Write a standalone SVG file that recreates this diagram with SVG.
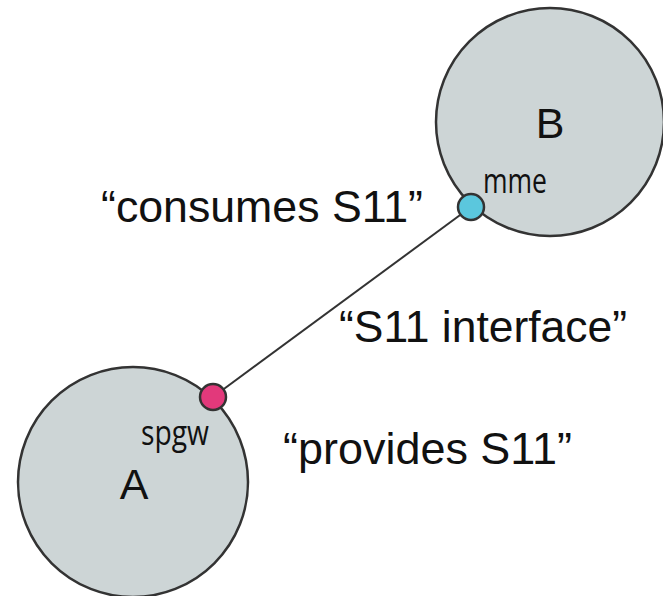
<svg xmlns="http://www.w3.org/2000/svg" width="663" height="596" viewBox="0 0 663 596">
  <style>
    .node { fill: #cdd5d6; stroke: #333; stroke-width: 2.5; }
    .name { font-family: "Liberation Sans", Arial, sans-serif; font-size: 43px; fill: #111; text-anchor: middle; }
    .port-label { font-family: "Open Sans", "DejaVu Sans", sans-serif; font-size: 34px; fill: #111; }
    .note { font-family: "Liberation Sans", Arial, sans-serif; font-size: 44px; fill: #111; }
    .link { stroke: #333; stroke-width: 2; fill: none; }
    .port { stroke: #333; stroke-width: 2.5; }
  </style>
  <rect width="663" height="596" fill="#fff"/>

  <g id="node-b">
    <circle class="node" cx="550" cy="122" r="114"/>
    <text class="name" x="550" y="138">B</text>
    <text class="port-label" x="483" y="193" textLength="64" lengthAdjust="spacingAndGlyphs">mme</text>
  </g>

  <g id="node-a">
    <circle class="node" cx="133" cy="482" r="115"/>
    <text class="name" x="134" y="499">A</text>
    <text class="port-label" x="141" y="445" textLength="68" lengthAdjust="spacingAndGlyphs">spgw</text>
  </g>

  <g id="connectors">
    <line class="link" x1="471" y1="207" x2="213" y2="397"/>
  </g>

  <g id="ports">
    <circle class="port" cx="471" cy="207" r="13" fill="#5bc7dd"/>
    <circle class="port" cx="213" cy="397" r="13" fill="#e2397b"/>
  </g>

  <g id="labels">
    <text class="note" x="101" y="222" textLength="322" lengthAdjust="spacingAndGlyphs">“consumes S11”</text>
    <text class="note" x="339" y="342" textLength="288" lengthAdjust="spacingAndGlyphs">“S11 interface”</text>
    <text class="note" x="283" y="464" textLength="289" lengthAdjust="spacingAndGlyphs">“provides S11”</text>
  </g>
</svg>
